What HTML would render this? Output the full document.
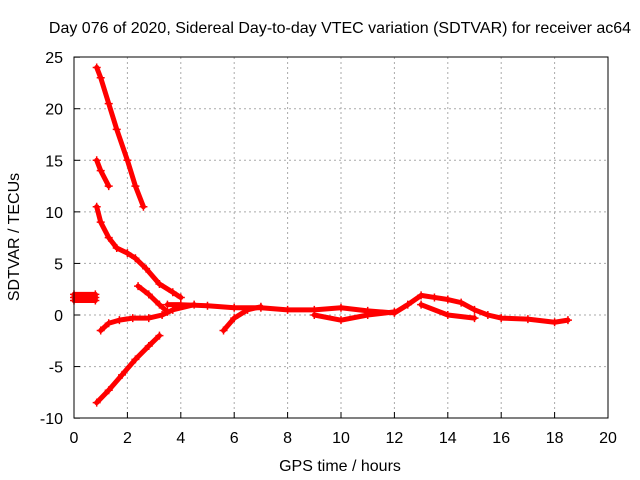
<!DOCTYPE html>
<html><head><meta charset="utf-8"><style>
body{margin:0;background:#fff;}
svg{display:block;font-family:"Liberation Sans",sans-serif;font-size:16px;}
</style></head><body>
<svg id="chart" width="640" height="480">
<text x="340" y="33" text-anchor="middle">Day 076 of 2020, Sidereal Day-to-day VTEC variation (SDTVAR) for receiver ac64</text>
<text x="340" y="471" text-anchor="middle">GPS time / hours</text>
<text transform="translate(19,237) rotate(-90)" text-anchor="middle">SDTVAR / TECUs</text>
<g id="grid"></g><g id="series"></g>
<rect x="74" y="57" width="534" height="361" fill="none" stroke="#000"/>
</svg>
<script>
const xTicks=[0,2,4,6,8,10,12,14,16,18,20];
const yTicks=[-10,-5,0,5,10,15,20,25];
const s1=[[0.85,24],[1.0,23],[1.3,20.5],[1.6,18],[2.0,15],[2.3,12.5],[2.6,10.5]];
const s2=[[0.85,15],[1.0,14],[1.3,12.5]];
const s3=[[0.85,10.5],[1.0,9],[1.3,7.5],[1.6,6.5],[2.0,6],[2.3,5.5],[2.7,4.5],[3.2,3],[3.7,2.2],[4.0,1.7]];
const s4=[[0.85,-8.5],[1.3,-7.3],[1.8,-5.8],[2.3,-4.3],[2.8,-3],[3.2,-2]];
const s5=[[1.0,-1.5],[1.3,-0.8],[1.7,-0.5],[2.2,-0.3],[2.8,-0.3],[3.3,0],[3.7,0.5],[4.5,1]];
const s6=[[2.4,2.8],[2.8,2],[3.2,1],[3.5,0.3]];
const s7=[[0,1.4],[0.8,1.4],[0.8,2.0],[0,2.0],[0,1.7],[0.8,1.7]];
const s8=[[3.5,1],[4,1],[5,0.9],[6,0.7],[7,0.7],[8,0.5],[9,0.5],[10,0.7],[11,0.4],[12,0.2],[12.5,1],[13,1.9],[13.5,1.7],[14,1.5],[14.5,1.2],[15,0.5],[15.5,0],[16,-0.3],[17,-0.4],[18,-0.7],[18.5,-0.5]];
const s9=[[5.6,-1.5],[6,-0.3],[6.5,0.5],[7,0.8]];
const s10=[[9,0],[10,-0.5],[11,0],[12,0.3]];
const s11=[[13,1],[14,0],[15,-0.3]];
const allSeries=[s1,s2,s3,s4,s5,s6,s7,s8,s9,s10,s11];
const NS='http://www.w3.org/2000/svg';
const X=v=>74+v*26.7, Y=v=>315-v*10.314;
const g=document.getElementById('grid'), sg=document.getElementById('series');
function mk(t,a,p){const e=document.createElementNS(NS,t);for(const k in a)e.setAttribute(k,a[k]);p.appendChild(e);return e;}
xTicks.forEach(t=>{
 if(t>0&&t<20){const l=mk('line',{x1:X(t),x2:X(t),y1:57,y2:418,stroke:'#aaa','stroke-dasharray':'2,3'},g);
 
 }
 const tk=mk('line',{x1:X(t),x2:X(t),y1:418,y2:412,stroke:'#000'},g);
 
 
 const tx=mk('text',{x:X(t),y:443,'text-anchor':'middle'},g);tx.textContent=t;
 
 
});
yTicks.forEach(t=>{
 if(t>-10&&t<25){const l=mk('line',{x1:74,x2:608,y1:Y(t),y2:Y(t),stroke:'#aaa','stroke-dasharray':'2,3'},g);
 
 }
 const tk=mk('line',{x1:74,x2:80,y1:Y(t),y2:Y(t),stroke:'#000'},g);
 
 
 const tx=mk('text',{x:63,y:Y(t)+6,'text-anchor':'end'},g);tx.textContent=t;
 
 
});
allSeries.forEach((s,i)=>{
 const pl=mk('polyline',{points:s.map(p=>X(p[0])+','+Y(p[1])).join(' '),fill:'none',stroke:'#f00','stroke-width':5,'stroke-linejoin':'round','stroke-linecap':'round'},sg);
 
 
 s.forEach(p=>{
  const m=mk('path',{d:`M${X(p[0])-4},${Y(p[1])}h8M${X(p[0])},${Y(p[1])-4}v8`,stroke:'#f00','stroke-width':1.5},sg);
  
  
 });
});
</script>
</body></html>
